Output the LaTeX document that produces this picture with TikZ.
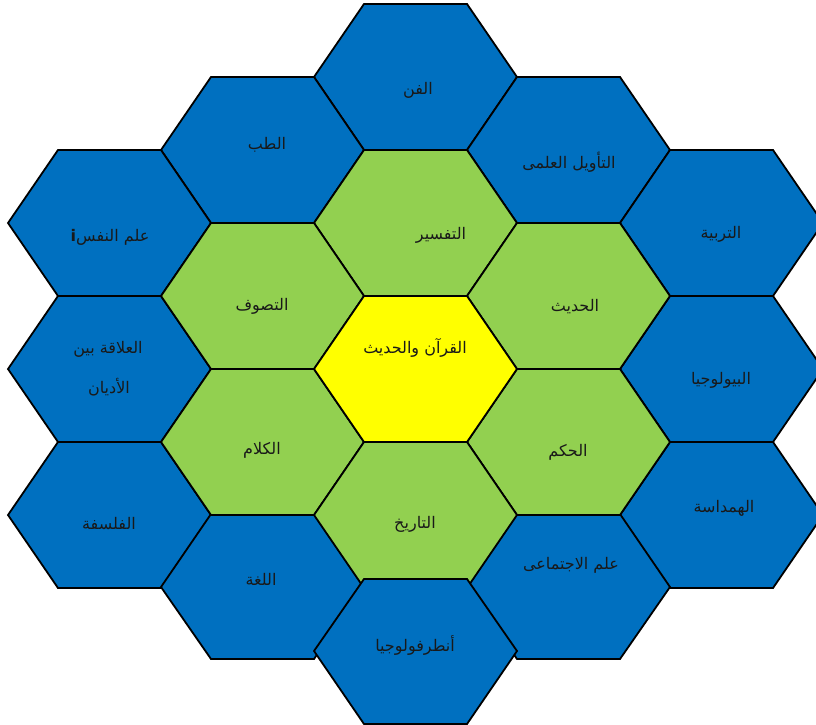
\documentclass[tikz,border=0pt]{standalone}
\usepackage{fontspec}
\TeXXeTstate=1
\newfontfamily\arabicfont[Script=Arabic]{DejaVu Sans}
\definecolor{hexblue}{HTML}{0070C0}
\definecolor{hexgreen}{HTML}{92D050}
\definecolor{hexyellow}{HTML}{FFFF00}
\tikzset{
  hexcell/.style={draw=black, line width=1.8pt, line join=miter},
  lbl/.style={font=\arabicfont\fontsize{16}{26}\selectfont, text=black!90, align=center, inner sep=0pt}
}
% #1 cx, #2 cy, #3 half-height up, #4 half-height down, #5 fill
\newcommand\drawhex[5]{%
  \filldraw[hexcell, fill=#5] (#1-101.5,#2) -- (#1-51.5,#2-#3) -- (#1+51.5,#2-#3)
    -- (#1+101.5,#2) -- (#1+51.5,#2+#4) -- (#1-51.5,#2+#4) -- cycle;}
\begin{document}
\begin{tikzpicture}[x=1pt,y=-1pt]
\clip (0,0) rectangle (816,725);
\fill[white] (0,0) rectangle (816,725);
% blue ring
\drawhex{415.5}{77}{73}{73}{hexblue}
\drawhex{262.5}{150}{73}{73}{hexblue}
\drawhex{568.5}{150}{73}{73}{hexblue}
\drawhex{109.5}{223}{73}{73}{hexblue}
\drawhex{109.5}{369}{73}{73}{hexblue}
\drawhex{109.5}{515}{73}{73}{hexblue}
\drawhex{721.5}{223}{73}{73}{hexblue}
\drawhex{721.5}{369}{73}{73}{hexblue}
\drawhex{721.5}{515}{73}{73}{hexblue}
\drawhex{262.5}{587}{73}{72}{hexblue}
\drawhex{568.5}{587}{73}{72}{hexblue}
% green ring
\drawhex{415.5}{223}{73}{73}{hexgreen}
\drawhex{262.5}{296}{73}{73}{hexgreen}
\drawhex{568.5}{296}{73}{73}{hexgreen}
\drawhex{262.5}{442}{73}{73}{hexgreen}
\drawhex{568.5}{442}{73}{73}{hexgreen}
\drawhex{415.5}{515}{73}{73}{hexgreen}
% centre
\drawhex{415.5}{369}{73}{73}{hexyellow}
% bottom blue, over the green one
\drawhex{415.5}{651}{72}{73}{hexblue}
% labels
\node[lbl] (core) at (415,348) {\beginR القرآن والحديث\endR};
\node[lbl] (tafsir) at (441,235) {\beginR التفسير\endR};
\node[lbl] (tasawwuf) at (262,306) {\beginR التصوف\endR};
\node[lbl] (hadith) at (575,307) {\beginR الحديث\endR};
\node[lbl] (kalam) at (262,450) {\beginR الكلام\endR};
\node[lbl] (hikam) at (568,452) {\beginR الحكم\endR};
\node[lbl] (tarikh) at (415,524) {\beginR التاريخ\endR};
\node[lbl] (fann) at (418,90) {\beginR الفن\endR};
\node[lbl] (tibb) at (267,145) {\beginR الطب\endR};
\node[lbl] (tawil) at (569,162) {\beginR التأويل العلمى\endR};
\node[lbl] (nafs) at (110,237) {\beginR علم النفس{\bfseries i}\endR};
\node[lbl] (tarbiya) at (721,234) {\beginR التربية\endR};
\node[lbl] (adyan1) at (108,349) {\beginR العلاقة بين\endR};
\node[lbl] (adyan2) at (109,387) {\beginR الأديان\endR};
\node[lbl] (bio) at (721,380) {\beginR البيولوجيا\endR};
\node[lbl] (handasa) at (724,508) {\beginR الهمداسة\endR};
\node[lbl] (falsafa) at (109,524) {\beginR الفلسفة\endR};
\node[lbl] (lugha) at (261,579) {\beginR اللغة\endR};
\node[lbl] (anthro) at (415,645) {\beginR أنطرفولوجيا\endR};
\node[lbl] (ijtima) at (571,565) {\beginR علم الاجتماعى\endR};
\end{tikzpicture}
\end{document}
